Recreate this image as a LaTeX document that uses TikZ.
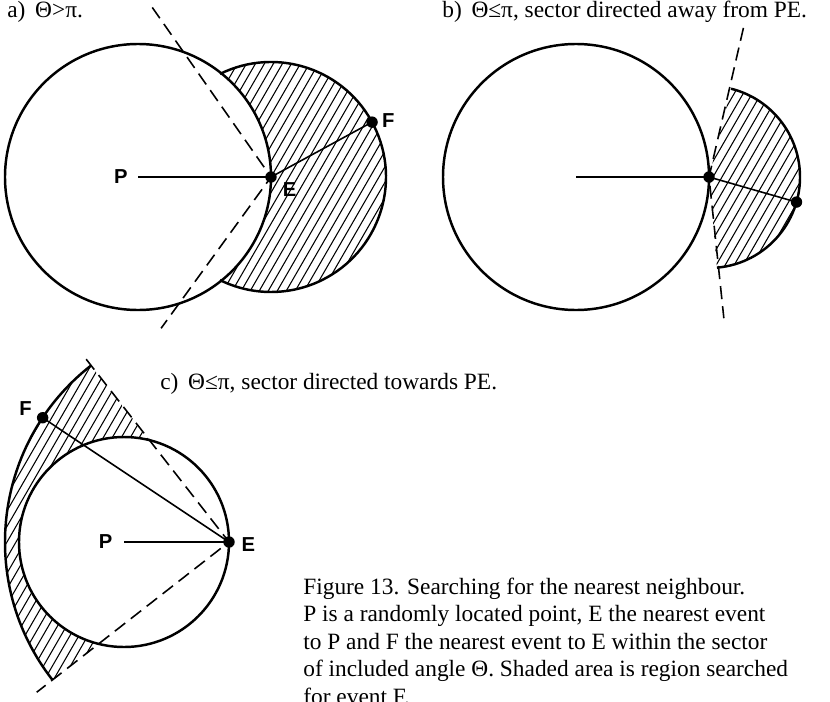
\documentclass[tikz,border=0pt]{standalone}
\usepackage{fontspec}
\setmainfont{Liberation Serif}
\setsansfont{Liberation Sans}
\usetikzlibrary{calc,positioning}
\tikzset{
  rim/.style={line width=1.4pt},
  spoke/.style={line width=0.9pt},
  hatch/.style={line width=0.6pt},
  cut/.style={line width=0.9pt, dash pattern=on 7.5pt off 4pt},
  dot/.style={circle, fill=black, inner sep=0pt, minimum size=6.5pt},
  lbl/.style={font=\fontsize{11.5}{13}\sffamily\bfseries, inner sep=0pt},
  ttl/.style={font=\fontsize{13.3}{15.6}\selectfont, anchor=base west, inner sep=0pt},
  captxt/.style={font=\fontsize{13.3}{15.6}\selectfont, anchor=base west, inner sep=0pt, align=left}
}

\begin{document}
\begin{tikzpicture}[x=0.02cm, y=0.02cm]
\useasboundingbox (0,0) rectangle (830,701);

% a) Theta > pi
\coordinate (Pa) at (138,524);
\coordinate (Ea) at (271,524);
\coordinate (Fa) at ($(Ea)+(28.5:115)$);
\begin{scope}
  \clip (Ea) circle (115);
  \foreach \k in {-16,...,16}
    \draw[hatch] (Ea) ++(\k*9,0) ++(240:160) -- ++(60:320);
\end{scope}
\fill[white] (Pa) circle (133);
\draw[rim] (Pa) circle (133);
\draw[rim] (Ea) ++(116.3:115) arc[start angle=116.3, end angle=-116.3, radius=115];
\coordinate (Ua) at ($(Ea)+(125:207)$);
\coordinate (La) at ($(Ea)+(234:187)$);
\draw[cut] (Ua) -- (Ea) -- (La);
\draw[spoke] (Pa) -- (Ea);
\draw[spoke] (Ea) -- (Fa);
\node[dot] (ea) at (Ea) {};
\node[dot] (fa) at (Fa) {};
\node[lbl, left=5.7pt of Pa] (pa) {P};
\node[lbl, below right=3pt and 6.5pt of Ea, anchor=north west] (ela) {E};
\node[lbl, right=5.5pt of Fa, yshift=1pt] (fla) {F};
\node[ttl] (ta) at (7,683) {a)\, Θ>π.};

% b) sector directed away from PE
\coordinate (Pb) at (576,524);
\coordinate (Eb) at (709,524);
\coordinate (Fb) at ($(Eb)+(-16:91)$);
\begin{scope}
  \clip (Eb) -- ++(-85:91) arc[start angle=-85, end angle=76, radius=91] -- cycle;
  \foreach \k in {-14,...,14}
    \draw[hatch] (Eb) ++(40,0) ++(\k*9,0) ++(240:130) -- ++(60:260);
\end{scope}
\draw[rim] (Pb) circle (133);
\draw[rim] (Eb) ++(-85:91) arc[start angle=-85, end angle=76, radius=91];
\coordinate (Ub) at ($(Eb)+(77:153)$);
\coordinate (Lb) at ($(Eb)+(-84:142)$);
\draw[cut] (Ub) -- (Eb) -- (Lb);
\draw[spoke] (Pb) -- (Eb);
\draw[spoke] (Eb) -- (Fb);
\node[dot] (eb) at (Eb) {};
\node[dot] (fb) at (Fb) {};
\node[ttl] (tb) at (442,683) {b)\, Θ≤π, sector directed away from PE.};

% c) sector directed towards PE
\coordinate (Pc) at (124,159);
\coordinate (Ec) at (229,159);
\coordinate (Fc) at ($(Ec)+(146.3:224)$);
\begin{scope}
  \clip (Ec) -- ++(128:224) arc[start angle=128, end angle=218, radius=224] -- cycle;
  \foreach \k in {-30,...,30}
    \draw[hatch] (Pc) ++(\k*9,0) ++(240:260) -- ++(60:520);
\end{scope}
\fill[white] (Pc) circle (105);
\draw[rim] (Pc) circle (105);
\draw[rim] (Ec) ++(128:224) arc[start angle=128, end angle=218, radius=224];
\coordinate (Uc) at ($(Ec)+(128:232)$);
\coordinate (Lc) at ($(Ec)+(218:244)$);
\draw[cut] (Uc) -- (Ec) -- (Lc);
\draw[spoke] (Pc) -- (Ec);
\draw[spoke] (Ec) -- (Fc);
\node[dot] (ec) at (Ec) {};
\node[dot] (fc) at (Fc) {};
\node[lbl, left=6.5pt of Pc] (pc) {P};
\node[lbl, right=7pt of Ec, yshift=-1.5pt] (elc) {E};
\node[lbl, above left=1pt and 6pt of Fc] (flc) {F};
\node[ttl] (tc) at (160,312) {c)\, Θ≤π, sector directed towards PE.};

% caption, last line runs off the lower edge
\node[captxt] (capt) at (303,-3) {Figure 13. Searching for the nearest neighbour.\\
P is a randomly located point, E the nearest event\\
to P and F the nearest event to E within the sector\\
of included angle Θ. Shaded area is region searched\\
for event F.};
\end{tikzpicture}
\end{document}
